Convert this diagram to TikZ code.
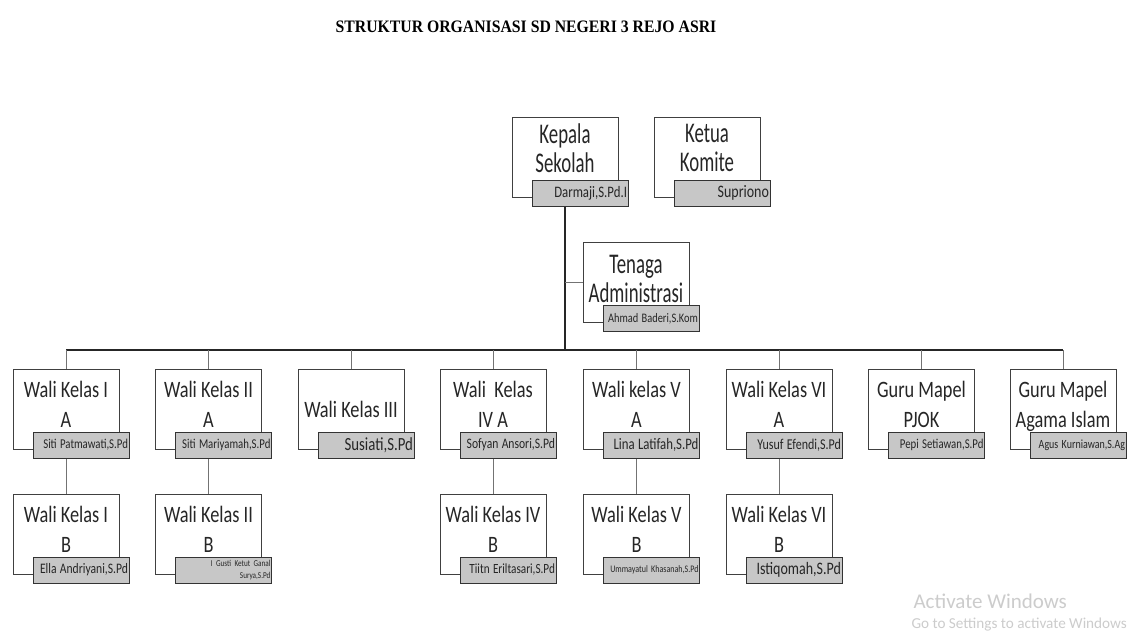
\documentclass[tikz,border=0pt]{standalone}
\usepackage{fontspec}
\usepackage{tikz}
\usetikzlibrary{calc}
\newfontfamily\boxfont[FakeStretch=0.78]{Carlito}
\newfontfamily\topfont[FakeStretch=0.66]{Carlito}
\newfontfamily\namafont[FakeStretch=0.8]{Carlito}
\newfontfamily\wmfont{Carlito}
\newfontfamily\judulfont[FakeStretch=0.9]{Liberation Serif}
\def\uk#1{\fontsize{#1}{#1}\selectfont}
\hyphenpenalty=10000
\tikzset{
	kotak/.style={draw=black!75, line width=1pt, fill=white, minimum width=106pt, minimum height=80pt, inner sep=0pt, align=center, text=black!85, font=\boxfont\fontsize{23.5}{30}\selectfont, text depth=10pt},
	atas/.style={font=\topfont\fontsize{28.5}{29}\selectfont, text depth=18pt},
	nama/.style={draw=black!80, line width=1pt, fill=black!22, anchor=north east, minimum width=96pt, minimum height=26pt, inner xsep=1pt, inner ysep=0pt, text width=94pt, align=right, text=black!85, font=\namafont},
	garis/.style={line width=0.9pt, black!55},
	batang/.style={line width=1.6pt, black!85},
}
\def\jabatan[#1](#2)(#3)#4#5{%
	\node[kotak,#1] (#2) at (#3) {#4};
	\node[nama] (#2n) at ($(#2.south east)+(10,-18)$) {#5};}

\begin{document}
\begin{tikzpicture}[x=1pt, y=-1pt]
		%%%%% START %%%%%
		
		\path[fill=white, use as bounding box] (0,0) rectangle (1136,643);
		
		\node[font=\judulfont\bfseries\fontsize{17.5}{20}\selectfont] (judul) at (526,27) {STRUKTUR ORGANISASI SD NEGERI 3 REJO ASRI};
		
		\jabatan[atas](ks)(565,157){Kepala\\Sekolah}{\uk{16}Darmaji,S.Pd.I}
		\jabatan[atas](kk)(707,157){Ketua\\Komite}{\uk{17.5}Supriono}
		\jabatan[atas, text depth=8pt](ta)(636,282.5){Tenaga\\Administrasi}{\uk{13}Ahmad Baderi,S.Kom}
		
		\jabatan[](w1a)(66,409){Wali Kelas I\\A}{\uk{13.5}Siti Patmawati,S.Pd}
		\jabatan[](w2a)(208.5,409){Wali Kelas II\\A}{\uk{13.5}Siti Mariyamah,S.Pd}
		\jabatan[text depth=0pt](w3a)(351,409){Wali Kelas III}{\uk{18.5}Susiati,S.Pd}
		\jabatan[](w4a)(493,409){Wali\ \ Kelas\\IV A}{\uk{14.5}Sofyan Ansori,S.Pd}
		\jabatan[](w5a)(636.5,409){Wali kelas V\\A}{\uk{16}Lina Latifah,S.Pd}
		\jabatan[](w6a)(779,409){Wali Kelas VI\\A}{\uk{15}Yusuf Efendi,S.Pd}
		\jabatan[](w7a)(921.5,409){Guru Mapel\\PJOK}{\uk{13.5}Pepi Setiawan,S.Pd}
		\jabatan[](w8a)(1063,409){Guru Mapel\\Agama Islam}{\uk{12.5}Agus Kurniawan,S.Ag}
		
		\jabatan[](w1b)(66,534){Wali Kelas I\\B}{\uk{14.5}Ella Andriyani,S.Pd}
		\jabatan[](w2b)(208.5,534){Wali Kelas II\\B}{\uk{9}I Gusti Ketut Ganal\\Surya,S.Pd}
		\jabatan[](w4b)(493,534){Wali Kelas IV\\B}{\uk{14}Tiitn Eriltasari,S.Pd}
		\jabatan[](w5b)(636.5,534){Wali Kelas V\\B}{\uk{10}Ummayatul Khasanah,S.Pd}
		\jabatan[](w6b)(779,534){Wali Kelas VI\\B}{\uk{17.5}Istiqomah,S.Pd}
		
		\coordinate (bus) at (565,350);
		\draw[batang] (ks.center |- ksn.south) -- (ks.center |- bus);
		\draw[garis] (ks.center |- ta.west) -- (ta.west);
		\draw[batang, line width=1.3pt] (w1a.north |- bus) -- (w8a.north |- bus);
		\foreach \k in {w1a,w2a,w3a,w4a,w5a,w6a,w7a,w8a}
			\draw[garis] (\k.north |- bus) -- (\k.north);
		\foreach \a/\an/\b in {w1a/w1an/w1b,w2a/w2an/w2b,w4a/w4an/w4b,w5a/w5an/w5b,w6a/w6an/w6b}
			\draw[garis] (\a.center |- \an.south) -- (\b.north);
		
		\node[anchor=base west, text=black!20, font=\wmfont\fontsize{21}{22}\selectfont] (aktif) at (910,608) {Activate Windows};
		\node[anchor=base west, text=black!20, font=\wmfont\fontsize{15.2}{17}\selectfont] (setel) at (908,628) {Go to Settings to activate Windows};
		
		%%%%% END %%%%%
	\end{tikzpicture}
\end{document}
